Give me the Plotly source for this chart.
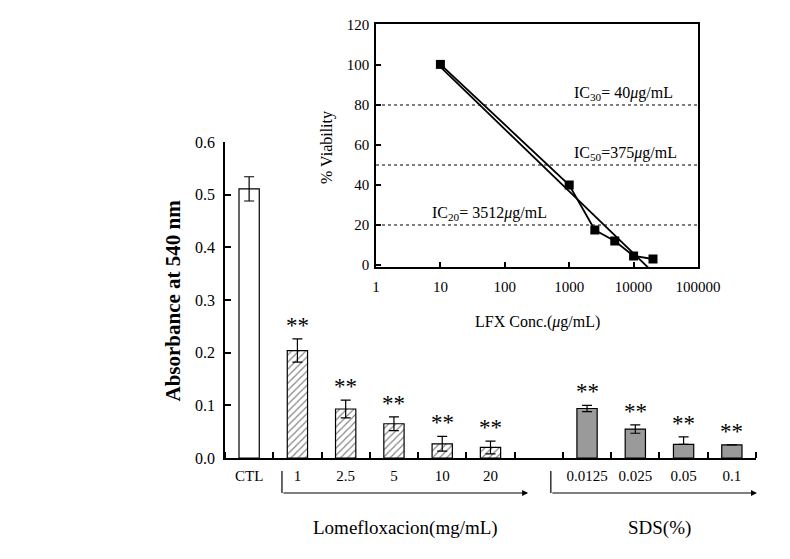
import numpy as np
import plotly.graph_objects as go

# ---------------- data ----------------
ctl_label = ["CTL"]
ctl_abs = [0.511]
ctl_err = [0.023]

lfx_labels = ["1", "2.5", "5", "10", "20"]
lfx_abs = [0.204, 0.093, 0.065, 0.027, 0.020]
lfx_err = [0.022, 0.017, 0.013, 0.014, 0.012]

sds_labels = ["0.0125", "0.025", "0.05", "0.1"]
sds_abs = [0.094, 0.055, 0.026, 0.025]
sds_err_plus = [0.006, 0.008, 0.014, 0.0]
sds_err_minus = [0.006, 0.008, 0.0, 0.0]

y_ticks = [0.0, 0.1, 0.2, 0.3, 0.4, 0.5, 0.6]

# inset: viability vs LFX concentration
inset_conc = [10, 1000, 2500, 5100, 10000, 20000]
inset_viab = [100.3, 40, 17.5, 12, 4.5, 3]
ic_levels = [80, 50, 20]
ic_texts = ["IC<sub>30</sub>= 40<i>μ</i>g/mL", "IC<sub>50</sub>=375<i>μ</i>g/mL",
            "IC<sub>20</sub>= 3512<i>μ</i>g/mL"]
inset_xticks = [1, 10, 100, 1000, 10000, 100000]
inset_yticks = [0, 20, 40, 60, 80, 100, 120]

# ---------------- layout helpers ----------------
FONT = "Times New Roman, Liberation Serif, serif"
W, H = 790, 559
ML, MR, MT, MB = 225, 34, 24, 101
ctl_pos = [0]
lfx_pos = [1, 2, 3, 4, 5]
sds_pos = [7, 8, 9, 10]
BW = 0.42

fig = go.Figure()

fig.add_trace(go.Bar(x=ctl_pos, y=ctl_abs, width=BW,
                     marker=dict(color="white", line=dict(color="black", width=1.2)),
                     error_y=dict(type="data", array=ctl_err, color="black", thickness=1.2, width=5),
                     xaxis="x", yaxis="y"))
fig.add_trace(go.Bar(x=lfx_pos, y=lfx_abs, width=BW,
                     marker=dict(color="white", line=dict(color="black", width=1.2),
                                 pattern=dict(shape="/", fgcolor="black", bgcolor="white",
                                              size=5, solidity=0.22)),
                     error_y=dict(type="data", array=lfx_err, color="black", thickness=1.2, width=5),
                     xaxis="x", yaxis="y"))
fig.add_trace(go.Bar(x=sds_pos, y=sds_abs, width=BW,
                     marker=dict(color="#9a9a9a", line=dict(color="black", width=1.2)),
                     error_y=dict(type="data", symmetric=False, array=sds_err_plus,
                                  arrayminus=sds_err_minus, color="black", thickness=1.2, width=5),
                     xaxis="x", yaxis="y"))

annotations = []
# significance asterisks
for xs, vals, errs in [(lfx_pos, lfx_abs, lfx_err), (sds_pos, sds_abs, sds_err_plus)]:
    for xv, v, e in zip(xs, vals, errs):
        annotations.append(dict(x=xv, y=v + e, xref="x", yref="y", text="**",
                                showarrow=False, xanchor="center", yanchor="bottom", yshift=-1,
                                font=dict(family=FONT, size=23, color="black")))

# inset traces
fig.add_trace(go.Scatter(x=inset_conc, y=inset_viab, mode="lines+markers",
                         line=dict(color="black", width=1.8),
                         marker=dict(symbol="square", size=9, color="black"),
                         xaxis="x2", yaxis="y2"))
slope, icpt = np.polyfit(np.log10(inset_conc), inset_viab, 1)
fit_x = [min(inset_conc), max(inset_conc)]
fit_y = [slope * np.log10(v) + icpt for v in fit_x]
fig.add_trace(go.Scatter(x=fit_x, y=fit_y, mode="lines",
                         line=dict(color="black", width=1.8),
                         xaxis="x2", yaxis="y2"))
for lvl in ic_levels:
    fig.add_trace(go.Scatter(x=[inset_xticks[0], inset_xticks[-1]], y=[lvl, lvl], mode="lines",
                             line=dict(color="black", width=1, dash="dot"),
                             xaxis="x2", yaxis="y2"))

ic_x = [3.04, 3.04, 0.84]
for t, lvl, xx in zip(ic_texts, ic_levels, ic_x):
    annotations.append(dict(x=xx, y=lvl, xref="x2", yref="y2", text=t, showarrow=False,
                            xanchor="left", yanchor="bottom", yshift=0,
                            font=dict(family=FONT, size=16, color="black")))

# axis titles
annotations.append(dict(x=-0.097, y=0.364, xref="paper", yref="paper",
                        xanchor="center", yanchor="middle",
                        text="<b>Absorbance at 540 nm</b>", textangle=-90, showarrow=False,
                        font=dict(family=FONT, size=21, color="black")))
annotations.append(dict(x=0.192, y=0.7166, xref="paper", yref="paper",
                        xanchor="center", yanchor="middle",
                        text="% Viability", textangle=-90, showarrow=False,
                        font=dict(family=FONT, size=16, color="black")))
annotations.append(dict(x=0.5876, y=0.3134, xref="paper", yref="paper",
                        xanchor="center", yanchor="middle",
                        text="LFX Conc.(<i>μ</i>g/mL)", showarrow=False,
                        font=dict(family=FONT, size=16, color="black")))

# group brackets
y_top = (H - MB - 471) / (H - MT - MB)
y_bot = (H - MB - 493) / (H - MT - MB)
y_grp = (H - MB - 528) / (H - MT - MB)
shapes = []
for start, end, label, cx in [(0.68, 5.78, "Lomefloxacion(mg/mL)", 3.23),
                              (6.25, 10.52, "SDS(%)", 8.51)]:
    fs = (start + 0.5) / 11.0
    shapes.append(dict(type="line", xref="x domain", yref="paper", x0=fs, x1=fs,
                       y0=y_top, y1=y_bot, line=dict(color="black", width=1.2)))
    annotations.append(dict(x=end, y=y_bot, xref="x", yref="paper", ax=start, axref="x",
                            ay=0, ayref="pixel", showarrow=True, arrowhead=2, arrowsize=1,
                            arrowwidth=1.2, arrowcolor="black", standoff=0, startstandoff=0,
                            text=""))
    annotations.append(dict(x=cx, y=y_grp, xref="x", yref="paper", text=label,
                            xanchor="center", yanchor="middle",
                            showarrow=False, font=dict(family=FONT, size=19, color="black")))

main_dom_top = (H - MB - 142) / (H - MT - MB)
inset_x0 = (376 - ML) / (W - ML - MR)
inset_x1 = (698 - ML) / (W - ML - MR)
inset_y0 = (H - MB - 267) / (H - MT - MB)

fig.update_layout(
    width=W, height=H, margin=dict(l=ML, r=MR, t=MT, b=MB),
    paper_bgcolor="white", plot_bgcolor="white", showlegend=False,
    font=dict(family=FONT, color="black"),
    barmode="overlay",
    xaxis=dict(domain=[0, 1], range=[-0.5, 10.5], anchor="y",
               tickvals=ctl_pos + lfx_pos + sds_pos,
               ticktext=ctl_label + lfx_labels + sds_labels,
               ticks="", showline=True, linecolor="black", linewidth=1.5,
               showgrid=False, zeroline=False, ticklabelstandoff=3,
               tickfont=dict(family=FONT, size=15, color="black"),
               minor=dict(tickmode="linear", tick0=-0.5, dtick=1, ticks="inside",
                          ticklen=6, tickwidth=1.5, tickcolor="black", showgrid=False)),
    yaxis=dict(domain=[0, main_dom_top], range=[0, 0.6], anchor="x",
               tickvals=y_ticks, ticktext=[f"{v:.1f}" for v in y_ticks],
               ticks="inside", ticklen=6, tickwidth=1.5, tickcolor="black",
               showline=True, linecolor="black", linewidth=1.5,
               showgrid=False, zeroline=False, ticklabelstandoff=5,
               tickfont=dict(family=FONT, size=16, color="black")),
    xaxis2=dict(domain=[inset_x0, inset_x1], type="log", range=[0, 5], anchor="y2",
                tickvals=inset_xticks, ticktext=[str(v) for v in inset_xticks],
                ticks="inside", ticklen=5, tickwidth=1.5, tickcolor="black",
                showline=True, mirror=True, linecolor="black", linewidth=1.5,
                showgrid=False, zeroline=False, ticklabelstandoff=5,
                tickfont=dict(family=FONT, size=15, color="black")),
    yaxis2=dict(domain=[inset_y0, 1], range=[-1, 120.5], anchor="x2",
                tickvals=inset_yticks, ticktext=[str(v) for v in inset_yticks],
                ticks="inside", ticklen=5, tickwidth=1.5, tickcolor="black",
                showline=True, mirror=True, linecolor="black", linewidth=1.5,
                showgrid=False, zeroline=False, ticklabelstandoff=2,
                tickfont=dict(family=FONT, size=15, color="black")),
    annotations=annotations, shapes=shapes,
)

fig.write_html("out.html", config={"displayModeBar": False},
               post_script="document.body.style.margin='0px';")
